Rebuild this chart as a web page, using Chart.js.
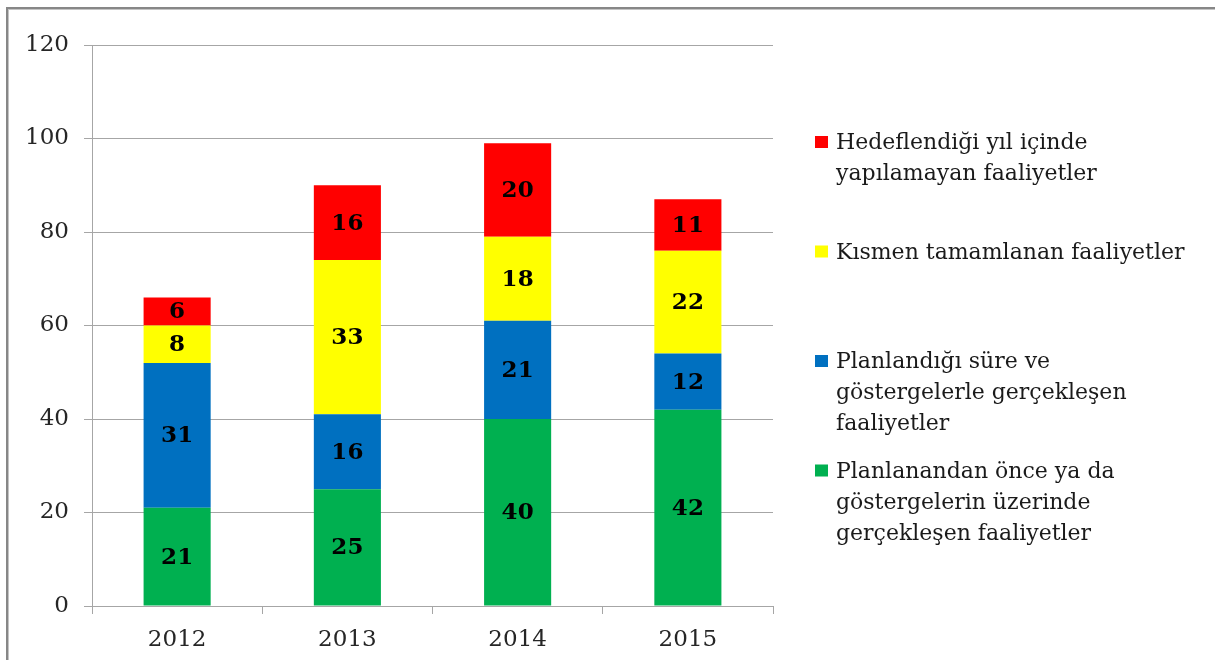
<!DOCTYPE html>
<html>
<head>
<meta charset="utf-8">
<script src="https://cdn.jsdelivr.net/npm/chart.js@4"></script>
<style>
  html, body { margin: 0; padding: 0; background: #fff; }
  #wrap { position: relative; width: 1215px; height: 660px; }
</style>
</head>
<body>
<div id="wrap"><canvas id="faaliyetChart" width="1215" height="660"></canvas></div>
<script>
// ==================== Dati del grafico ====================
const yillar = ['2012', '2013', '2014', '2015'];

const onceGerceklesen = [21, 25, 40, 42];     // verde
const planlandigiGibi = [31, 16, 21, 12];     // blu
const kismenTamam = [8, 33, 18, 22];          // giallo
const yapilamayan = [6, 16, 20, 11];          // rosso

const seriEtiketleri = [
    ['Planlanandan önce ya da', 'göstergelerin üzerinde', 'gerçekleşen faaliyetler'],
    ['Planlandığı süre ve', 'göstergelerle gerçekleşen', 'faaliyetler'],
    ['Kısmen tamamlanan faaliyetler'],
    ['Hedeflendiği yıl içinde', 'yapılamayan faaliyetler']
];
const seriColori = ['#00B050', '#0070C0', '#FFFF00', '#FF0000'];
const yTicks = [0, 20, 40, 60, 80, 100, 120];

const FONT = "'DejaVu Serif', serif";
const GRIGIO = '#a6a6a6';

// Cornice grigia (solo lato sinistro e superiore)
const cornicePlugin = {
    id: 'cornice',
    beforeDraw(chart) {
        const ctx = chart.ctx;
        ctx.save();
        ctx.fillStyle = '#fff';
        ctx.fillRect(0, 0, chart.width, chart.height);
        ctx.fillStyle = '#878787';
        ctx.fillRect(6, 7, chart.width - 6, 2);
        ctx.fillRect(6, 7, 2, chart.height - 7);
        ctx.fillStyle = '#c4c4c4';
        ctx.fillRect(8, 9, chart.width - 8, 1);
        ctx.fillRect(8, 9, 1, chart.height - 9);
        ctx.restore();
    }
};

// Etichette dei valori al centro di ogni segmento
const valoriPlugin = {
    id: 'valori',
    afterDatasetsDraw(chart) {
        const ctx = chart.ctx;
        ctx.save();
        ctx.font = 'bold 23px ' + FONT;
        ctx.fillStyle = '#000';
        ctx.textAlign = 'center';
        ctx.textBaseline = 'middle';
        chart.data.datasets.forEach((ds, i) => {
            const meta = chart.getDatasetMeta(i);
            meta.data.forEach((bar, j) => {
                const v = ds.data[j];
                ctx.fillText(String(v), bar.x, (bar.y + bar.base) / 2 + 1);
            });
        });
        ctx.restore();
    }
};

// Legenda a destra con testo su più righe (ordine inverso, rosso in alto)
const legendaPlugin = {
    id: 'legendaMultiriga',
    afterDraw(chart) {
        const ctx = chart.ctx;
        const x0 = 815;
        const primaBase = 149;
        const passo = 109.5;
        const interlinea = 31;
        ctx.save();
        ctx.font = '22px ' + FONT;
        ctx.fillStyle = '#1a1a1a';
        ctx.textAlign = 'left';
        ctx.textBaseline = 'alphabetic';
        const n = chart.data.datasets.length;
        for (let k = 0; k < n; k++) {
            const i = n - 1 - k;
            const ds = chart.data.datasets[i];
            const base = primaBase + passo * k;
            ctx.fillStyle = ds.backgroundColor;
            ctx.fillRect(x0, base - 13, 13, 12);
            ctx.fillStyle = '#1a1a1a';
            ds.righe.forEach((riga, r) => {
                ctx.fillText(riga, x0 + 21, base + r * interlinea);
            });
        }
        ctx.restore();
    }
};

const serie = [onceGerceklesen, planlandigiGibi, kismenTamam, yapilamayan];

new Chart(document.getElementById('faaliyetChart'), {
    type: 'bar',
    data: {
        labels: yillar,
        datasets: serie.map((valori, i) => ({
            label: seriEtiketleri[i].join(' '),
            righe: seriEtiketleri[i],
            data: valori,
            backgroundColor: seriColori[i],
            borderWidth: 0,
            categoryPercentage: 1,
            barPercentage: 0.394
        }))
    },
    options: {
        responsive: false,
        animation: false,
        layout: {
            padding: { left: 0, right: 442, top: 45, bottom: 0 }
        },
        plugins: {
            legend: { display: false },
            tooltip: { enabled: false }
        },
        scales: {
            x: {
                stacked: true,
                afterFit: s => { s.height = 54; },
                border: { display: true, color: GRIGIO, width: 1 },
                grid: {
                    offset: true,
                    drawOnChartArea: false,
                    drawTicks: true,
                    tickLength: 8,
                    color: GRIGIO
                },
                ticks: {
                    color: '#262626',
                    padding: 12,
                    font: { family: FONT, size: 23 }
                }
            },
            y: {
                stacked: true,
                min: 0,
                max: 120,
                afterFit: s => { s.width = 92; },
                afterBuildTicks: s => { s.ticks = yTicks.map(v => ({ value: v })); },
                border: { display: true, color: GRIGIO, width: 1 },
                grid: {
                    color: GRIGIO,
                    lineWidth: 1,
                    tickLength: 8
                },
                ticks: {
                    color: '#262626',
                    padding: 15,
                    font: { family: FONT, size: 23 }
                }
            }
        }
    },
    plugins: [cornicePlugin, valoriPlugin, legendaPlugin]
});
</script>
</body>
</html>
